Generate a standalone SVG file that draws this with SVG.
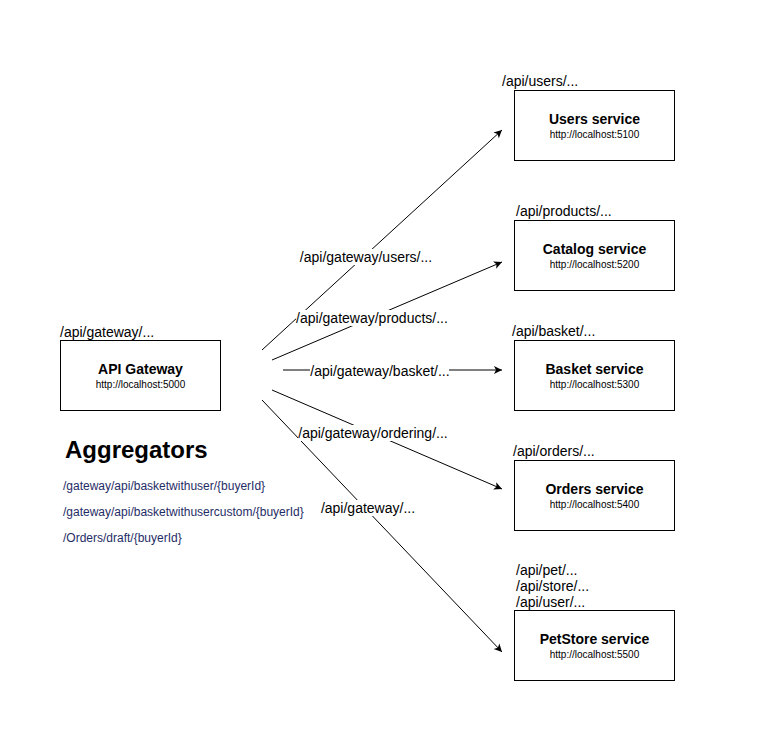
<svg xmlns="http://www.w3.org/2000/svg" width="769" height="749" viewBox="0 0 769 749">
<defs>
<marker id="arr" markerWidth="10" markerHeight="10" refX="9" refY="5" orient="auto" markerUnits="userSpaceOnUse">
<path d="M1,1 L9,5 L1,9 L3,5 Z" fill="#000"/>
</marker>
<style>
.box{fill:#fff;stroke:#000;stroke-width:1}
.t{font-family:"Liberation Sans",Arial,sans-serif;font-weight:bold;font-size:14px;text-anchor:middle;fill:#000}
.u{font-family:"Liberation Sans",Arial,sans-serif;font-size:10px;text-anchor:middle;fill:#000}
.lbl{font-family:"Liberation Sans",Arial,sans-serif;font-size:14px;fill:#000}
.el{font-family:"Liberation Sans",Arial,sans-serif;font-size:14px;fill:#000;text-anchor:middle}
.bg{fill:#fff}
.c{stroke:#000;stroke-width:1;fill:none;marker-end:url(#arr)}
.agg{font-family:"Liberation Sans",Arial,sans-serif;font-size:12px;fill:#1f2d66}
</style>
</defs>
<rect width="769" height="749" fill="#fff"/>
<g id="connectors">
<line class="c" x1="262" y1="350" x2="502" y2="130"/>
<line class="c" x1="272" y1="360" x2="502" y2="262"/>
<line class="c" x1="283" y1="370" x2="502" y2="370"/>
<line class="c" x1="272" y1="390" x2="502" y2="489"/>
<line class="c" x1="262" y1="400" x2="502" y2="652"/>
<rect class="bg" x="299" y="249" width="134" height="16"/>
<text class="el" x="366" y="262">/api/gateway/users/...</text>
<rect class="bg" x="296" y="310" width="152" height="16"/>
<text class="el" x="372" y="323">/api/gateway/products/...</text>
<rect class="bg" x="310" y="363" width="139" height="16"/>
<text class="el" x="380" y="376">/api/gateway/basket/...</text>
<rect class="bg" x="298" y="425" width="150" height="16"/>
<text class="el" x="373" y="438">/api/gateway/ordering/...</text>
<rect class="bg" x="321" y="500" width="95" height="16"/>
<text class="el" x="368" y="513">/api/gateway/...</text>
</g>
<g id="gateway">
<text class="lbl" x="60" y="337">/api/gateway/...</text>
<rect class="box" x="60.5" y="340.5" width="160" height="70"/>
<text class="t" x="140.5" y="374">API Gateway</text>
<text class="u" x="140.5" y="388">http://localhost:5000</text>
</g>
<g id="users">
<text class="lbl" x="502" y="86">/api/users/...</text>
<rect class="box" x="514.5" y="90.5" width="160" height="70"/>
<text class="t" x="594.5" y="124">Users service</text>
<text class="u" x="594.5" y="138">http://localhost:5100</text>
</g>
<g id="catalog">
<text class="lbl" x="516" y="216">/api/products/...</text>
<rect class="box" x="514.5" y="220.5" width="160" height="70"/>
<text class="t" x="594.5" y="254">Catalog service</text>
<text class="u" x="594.5" y="268">http://localhost:5200</text>
</g>
<g id="basket">
<text class="lbl" x="512" y="336">/api/basket/...</text>
<rect class="box" x="514.5" y="340.5" width="160" height="70"/>
<text class="t" x="594.5" y="374">Basket service</text>
<text class="u" x="594.5" y="388">http://localhost:5300</text>
</g>
<g id="orders">
<text class="lbl" x="513" y="456">/api/orders/...</text>
<rect class="box" x="514.5" y="460.5" width="160" height="70"/>
<text class="t" x="594.5" y="494">Orders service</text>
<text class="u" x="594.5" y="508">http://localhost:5400</text>
</g>
<g id="petstore">
<text class="lbl" x="516" y="575">/api/pet/...</text>
<text class="lbl" x="516" y="591">/api/store/...</text>
<text class="lbl" x="516" y="607">/api/user/...</text>
<rect class="box" x="514.5" y="610.5" width="160" height="70"/>
<text class="t" x="594.5" y="644">PetStore service</text>
<text class="u" x="594.5" y="658">http://localhost:5500</text>
</g>
<g id="aggregators">
<text x="65" y="458" font-family="Liberation Sans, Arial, sans-serif" font-size="24" font-weight="bold" fill="#000">Aggregators</text>
<text class="agg" x="63" y="490">/gateway/api/basketwithuser/{buyerId}</text>
<text class="agg" x="63" y="516">/gateway/api/basketwithusercustom/{buyerId}</text>
<text class="agg" x="63" y="542">/Orders/draft/{buyerId}</text>
</g>
</svg>
